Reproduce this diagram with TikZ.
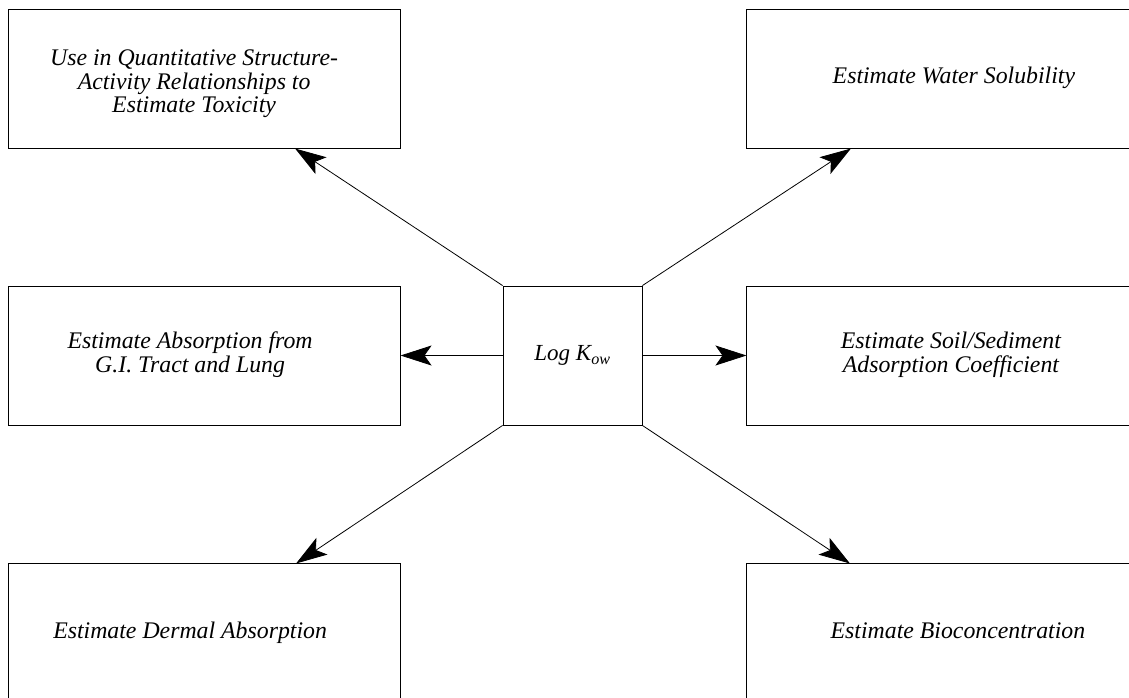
\documentclass[tikz,border=0pt]{standalone}
\usepackage{fontspec}
\setmainfont{Liberation Serif}
\usetikzlibrary{arrows.meta, positioning, calc}
% shift a centred text block sideways inside its box
\newcommand{\nudge}[2]{\kern#1\begin{tabular}{@{}c@{}}#2\end{tabular}\kern-#1}

\begin{document}
\begin{tikzpicture}[
  x=1pt, y=-1pt,
  task/.style={rectangle, draw=black, line width=0.9pt, minimum width=392pt, minimum height=139pt, inner sep=0pt, align=center, font=\fontsize{23.8}{23.5}\selectfont\itshape},
  core/.style={rectangle, draw=black, line width=0.9pt, minimum width=139pt, minimum height=139pt, inner sep=0pt, align=center, font=\fontsize{23}{24}\selectfont\itshape},
  arrow/.style={-{Stealth[length=31pt, width=20pt, inset=7pt]}, line width=0.8pt, draw=black}
]
  \useasboundingbox (0,0) rectangle (1129,697);

  \node[core] (logk) at (572.5, 355.5) {Log K\textsubscript{ow}};
  \node[task, left=102pt of logk] (absorb) {\nudge{-14pt}{Estimate Absorption from\\G.I. Tract and Lung}};
  \node[task, right=104pt of logk] (soil) {\nudge{8pt}{Estimate Soil/Sediment\\Adsorption Coefficient}};
  \node[task, above=137pt of absorb] (qsar) {\raisebox{-6pt}[\height][\depth]{\nudge{-10pt}{Use in Quantitative Structure-\\Activity Relationships to\\Estimate Toxicity}}};
  \node[task, above=137pt of soil] (water) {\nudge{11pt}{Estimate Water Solubility}};
  \node[task, below=138pt of absorb] (dermal) {\nudge{-14pt}{Estimate Dermal Absorption}};
  \node[task, below=138pt of soil] (bcf) {\nudge{15pt}{Estimate Bioconcentration}};

  \draw[arrow] (logk.north west) -- ($(qsar.south)+(91,0)$);
  \draw[arrow] (logk.north east) -- ($(water.south)+(-92,0)$);
  \draw[arrow] (logk.west) -- (absorb.east);
  \draw[arrow] (logk.east) -- (soil.west);
  \draw[arrow] (logk.south west) -- ($(dermal.north)+(92,0)$);
  \draw[arrow] (logk.south east) -- ($(bcf.north)+(-93,0)$);
\end{tikzpicture}
\end{document}
